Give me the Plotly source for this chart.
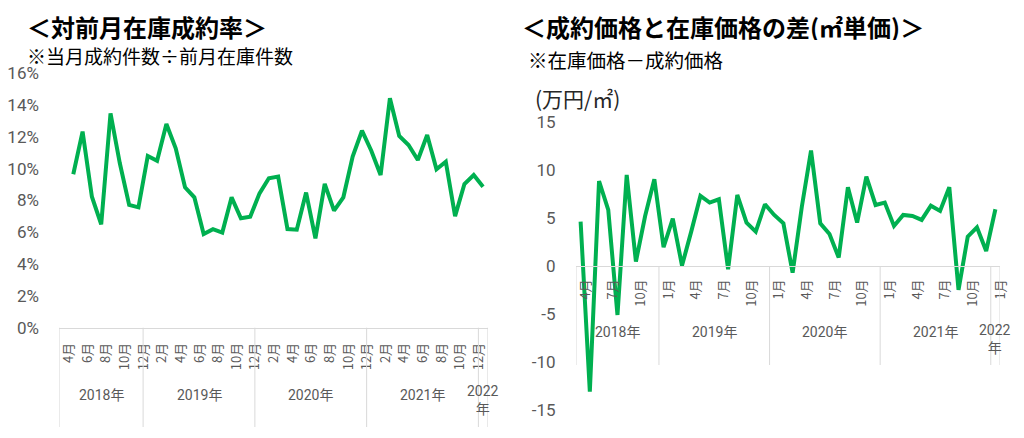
import plotly.graph_objects as go

# ---- categories ----
year_labels = ["2018年", "2019年", "2020年", "2021年", "2022<br>年"]
months_per_year = [9, 12, 12, 12, 1]
start_month = 4

# ---- series ----
# 対前月在庫成約率 (%)  Apr-2018 has no value (no previous-month inventory)
rate = [None, 9.65, 12.33, 8.24, 6.5, 13.48, 10.34, 7.72, 7.57, 10.8, 10.5,
        12.81, 11.28, 8.83, 8.2, 5.89, 6.2, 5.98, 8.2, 6.88, 6.98,
        8.45, 9.4, 9.5, 6.2, 6.16, 8.5, 5.62, 9.04, 7.36, 8.2,
        10.76, 12.39, 11.13, 9.6, 14.43, 12.06, 11.49, 10.55, 12.12, 9.96,
        10.44, 7.02, 9.04, 9.6, 8.87]
# 成約価格と在庫価格の差 (万円/㎡)
diff = [4.64, -13.09, 8.88, 5.86, -5.09, 9.51, 0.47, 5.23, 9.06, 1.97,
        4.96, 0.06, 3.6, 7.32, 6.63, 6.97, -0.33, 7.42, 4.54, 3.6,
        6.45, 5.34, 4.47, -0.68, 6.2, 12.05, 4.47, 3.36, 0.89, 8.23,
        4.54, 9.34, 6.38, 6.63, 4.19, 5.34, 5.23, 4.82, 6.31, 5.76,
        8.23, -2.48, 3.08, 4.05, 1.58, 5.93]

left_ticks = [0, 2, 4, 6, 8, 10, 12, 14, 16]
right_ticks = [-15, -10, -5, 0, 5, 10, 15]

# ---- derived category info ----
months = []
for i, n in enumerate(months_per_year):
    m0 = start_month if i == 0 else 1
    months += [m0 + k for k in range(n)]
idx = list(range(len(months)))
bounds = [-0.5]
for n in months_per_year:
    bounds.append(bounds[-1] + n)
mids = [(bounds[i] + bounds[i + 1]) / 2 for i in range(len(months_per_year))]

GREEN = "#00B050"
GRAY = "#595959"
LINE = "#D9D9D9"
NUM_FONT = "Roboto"
JP_FONT = "Noto Sans CJK JP"

# page body has an 8px margin: figure sits at (8, 8)
OFF = 8
W, H = 1008, 422


def px(x):
    return (x - OFF) / W


def py(y):
    return (OFF + H - y) / H


fig = go.Figure()
fig.add_trace(go.Scatter(x=idx, y=rate, mode="lines", xaxis="x", yaxis="y",
                         line=dict(color=GREEN, width=4), connectgaps=False,
                         showlegend=False, hoverinfo="skip"))
fig.add_trace(go.Scatter(x=idx, y=diff, mode="lines", xaxis="x2", yaxis="y2",
                         line=dict(color=GREEN, width=4),
                         showlegend=False, hoverinfo="skip"))

lt_vals = [i for i in idx if i % 2 == 0 and i < len(idx) - 1]
rt_vals = [i for i in idx if i % 3 == 0]

fig.update_layout(
    width=W, height=H, autosize=False,
    margin=dict(l=0, r=0, t=0, b=0, pad=0, autoexpand=False),
    paper_bgcolor="white", plot_bgcolor="white",
    xaxis=dict(domain=[px(59.3), px(487.7)], range=[-0.5, len(idx) - 0.5],
               tickvals=lt_vals, ticktext=[f"{months[i]}月" for i in lt_vals],
               tickangle=-90, tickfont=dict(family=JP_FONT, size=13, color=GRAY),
               ticklabelshift=5,
               showgrid=False, zeroline=False, showline=True, linecolor=LINE, linewidth=1,
               ticks="outside", ticklen=9, tickcolor="rgba(0,0,0,0)", anchor="y",
               fixedrange=True, automargin=False),
    yaxis=dict(domain=[py(327.7), py(73.3)], range=[0, 16], tickvals=left_ticks,
               ticktext=[f"{v}%" for v in left_ticks],
               tickfont=dict(family=NUM_FONT, size=17, color=GRAY),
               showgrid=False, zeroline=False, showline=False,
               ticks="outside", ticklen=16, tickcolor="rgba(0,0,0,0)", anchor="x",
               fixedrange=True, automargin=False),
    xaxis2=dict(domain=[px(576), px(1000)], range=[-0.5, len(idx) - 0.5],
                tickvals=rt_vals, ticktext=[f"{months[i]}月" for i in rt_vals],
                tickangle=-90, tickfont=dict(family=JP_FONT, size=13, color=GRAY),
                ticklabelshift=5,
                showgrid=False, zeroline=False, showline=True, linecolor=LINE, linewidth=1,
                ticks="outside", ticklen=7, tickcolor="rgba(0,0,0,0)",
                anchor="free", position=py(266.2), fixedrange=True, automargin=False),
    yaxis2=dict(domain=[py(410), py(122.3)], range=[-15, 15], tickvals=right_ticks,
                ticktext=[str(v) for v in right_ticks],
                tickfont=dict(family=NUM_FONT, size=17, color=GRAY),
                showgrid=False, zeroline=False, showline=False,
                ticks="outside", ticklen=16, tickcolor="rgba(0,0,0,0)", anchor="x2",
                fixedrange=True, automargin=False),
)

shapes = []
for b in bounds:
    shapes.append(dict(type="line", xref="x", yref="paper", x0=b, x1=b,
                       y0=py(327.7), y1=py(427), line=dict(color=LINE, width=1)))
    shapes.append(dict(type="line", xref="x2", yref="paper", x0=b, x1=b,
                       y0=py(266.2), y1=py(365), line=dict(color=LINE, width=1)))
fig.update_layout(shapes=shapes)

ann = []
for lab, m in zip(year_labels, mids):
    two = "<br>" in lab
    ann.append(dict(xref="x", yref="paper", x=m, y=py(400 if two else 395),
                    text=lab, showarrow=False, xanchor="center", yanchor="middle",
                    font=dict(family=NUM_FONT + ", " + JP_FONT, size=14, color=GRAY)))
    ann.append(dict(xref="x2", yref="paper", x=m, y=py(339 if two else 331.7),
                    text=lab, showarrow=False, xanchor="center", yanchor="middle",
                    font=dict(family=NUM_FONT + ", " + JP_FONT, size=14, color=GRAY)))

ann += [
    dict(xref="paper", yref="paper", x=px(25), y=py(26.5), xanchor="left", yanchor="middle",
         text="<b>＜対前月在庫成約率＞</b>", showarrow=False, height=27,
         font=dict(family=JP_FONT, size=24, color="black")),
    dict(xref="paper", yref="paper", x=px(25), y=py(54.5), xanchor="left", yanchor="middle",
         text="※当月成約件数÷前月在庫件数", showarrow=False, height=24,
         font=dict(family=JP_FONT, size=19, color="black")),
    dict(xref="paper", yref="paper", x=px(520), y=py(27), xanchor="left", yanchor="middle",
         text="<b>＜成約価格と在庫価格の差(㎡単価)＞</b>", showarrow=False, height=27,
         font=dict(family=JP_FONT, size=24, color="black")),
    dict(xref="paper", yref="paper", x=px(526), y=py(59), xanchor="left", yanchor="middle",
         text="※在庫価格－成約価格", showarrow=False, height=24,
         font=dict(family=JP_FONT, size=19.5, color="black")),
    dict(xref="paper", yref="paper", x=px(533), y=py(98), xanchor="left", yanchor="middle",
         text="(万円/㎡)", showarrow=False,
         font=dict(family=JP_FONT, size=21, color="#262626")),
]
fig.update_layout(annotations=ann)

fig.write_html("out.html")
